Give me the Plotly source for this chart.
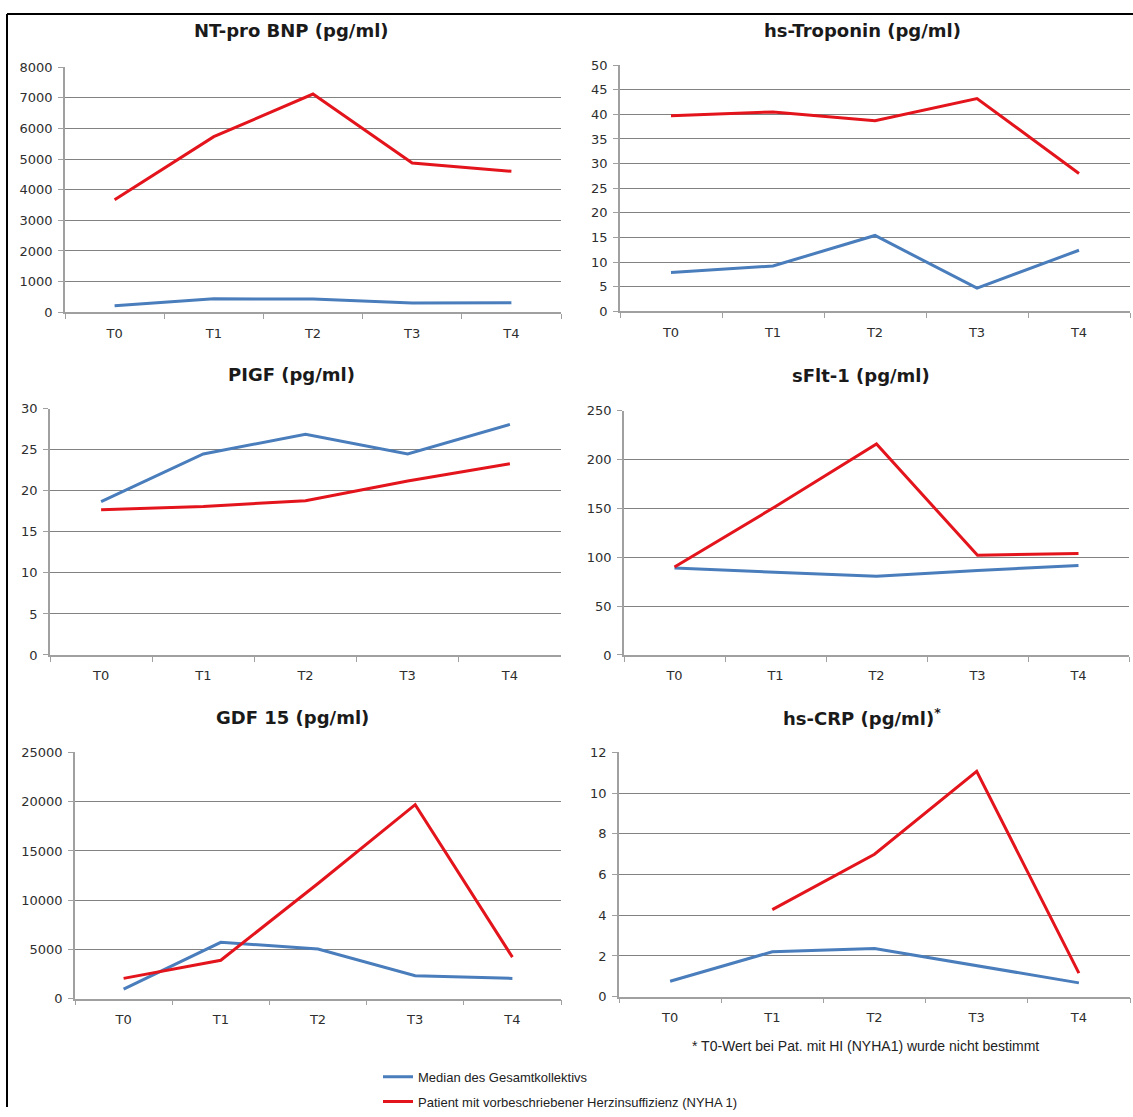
import plotly.graph_objects as go

W, H = 1133, 1117

# time points
times = ["T0", "T1", "T2", "T3", "T4"]

# series values per marker (median of whole cohort / patient with heart failure NYHA 1)
ntprobnp_median = [210, 440, 430, 300, 310]
ntprobnp_patient = [3670, 5730, 7120, 4870, 4600]

troponin_median = [7.9, 9.2, 15.4, 4.7, 12.4]
troponin_patient = [39.7, 40.5, 38.7, 43.2, 28.0]

plgf_median = [18.7, 24.5, 26.9, 24.5, 28.1]
plgf_patient = [17.7, 18.1, 18.8, 21.2, 23.3]

sflt_median = [89, 85, 80.5, 86.5, 91.5]
sflt_patient = [90, 152, 216, 102, 104]

gdf_median = [960, 5720, 5050, 2330, 2060]
gdf_patient = [2060, 3900, 11700, 19700, 4220]

crp_median = [0.76, 2.21, 2.37, 1.53, 0.68]
crp_patient = [None, 4.28, 7.0, 11.07, 1.16]

median_name = "Median des Gesamtkollektivs"
patient_name = "Patient mit vorbeschriebener Herzinsuffizienz (NYHA 1)"
footnote = "* T0-Wert bei Pat. mit HI (NYHA1) wurde nicht bestimmt"

BLUE = "#4a7dbb"
RED = "#e3141c"
GRID = "#828282"
AXIS = "#a0a0a0"
TICKFONT = dict(family="DejaVu Sans, Arial, sans-serif", size=13, color="#2e2e2e")

# panel layout in pixels: title, median, patient, (x0, x1, ytop, ybottom), ymax, dtick, title centre
panels = [
    ("NT-pro BNP (pg/ml)", ntprobnp_median, ntprobnp_patient, (65, 561, 61, 310), 8000, 1000, (291, 24)),
    ("hs-Troponin (pg/ml)", troponin_median, troponin_patient, (620, 1130, 59, 309), 50, 5, (862, 24)),
    ("PIGF (pg/ml)", plgf_median, plgf_patient, (50, 561, 408, 658), 30, 5, (291, 373)),
    ("sFlt-1 (pg/ml)", sflt_median, sflt_patient, (624, 1129, 410, 658), 250, 50, (861, 374)),
    ("GDF 15 (pg/ml)", gdf_median, gdf_patient, (75, 561, 757, 1007), 25000, 5000, (292, 721)),
    ("hs-CRP (pg/ml)<sup>*</sup>", crp_median, crp_patient, (619, 1130, 757, 1005), 12, 2, (862, 721)),
]

fig = go.Figure()
annotations = []

for i, (title, med, pat, (x0, x1, yt, yb), ymax, dt, (tx, ty)) in enumerate(panels):
    n = "" if i == 0 else str(i + 1)
    xa, ya = "x" + n, "y" + n
    fig.add_trace(go.Scatter(
        x=times, y=med, mode="lines", name=median_name,
        line=dict(color=BLUE, width=3), xaxis=xa, yaxis=ya,
        showlegend=(i == 0), legendgroup="median", connectgaps=False,
    ))
    fig.add_trace(go.Scatter(
        x=times, y=pat, mode="lines", name=patient_name,
        line=dict(color=RED, width=3), xaxis=xa, yaxis=ya,
        showlegend=(i == 0), legendgroup="patient", connectgaps=False,
    ))
    fig.layout["xaxis" + n] = dict(
        domain=[x0 / W, x1 / W], anchor=ya, type="category",
        categoryorder="array", categoryarray=times, range=[-0.5, 4.5],
        showgrid=False, showline=True, linecolor=AXIS, linewidth=1.5,
        ticks="outside", tickson="boundaries", ticklen=5, tickcolor=AXIS,
        tickfont=TICKFONT, ticklabelstandoff=8, zeroline=False,
        fixedrange=True,
    )
    fig.layout["yaxis" + n] = dict(
        domain=[1 - yb / H, 1 - yt / H], anchor=xa, range=[0, ymax],
        dtick=dt, tick0=0, tickformat="d", showgrid=True, gridcolor=GRID,
        gridwidth=1.4, showline=True, linecolor=AXIS, linewidth=1.5,
        ticks="outside", ticklen=5, tickcolor=AXIS, tickfont=TICKFONT,
        zeroline=False, ticklabelstandoff=3, fixedrange=True,
    )
    annotations.append(dict(
        text="<b>" + title + "</b>", x=tx / W, y=1 - ty / H,
        xref="paper", yref="paper", xanchor="center", yanchor="middle",
        showarrow=False,
        font=dict(family="DejaVu Sans, Arial, sans-serif", size=18, color="#1a1a1a"),
    ))

annotations.append(dict(
    text=footnote, x=865 / W, y=1 - 1055 / H, xref="paper", yref="paper",
    xanchor="center", yanchor="middle", showarrow=False,
    font=dict(family="Liberation Sans, Arial, sans-serif", size=14, color="#222222"),
))

fig.update_layout(
    width=W, height=H,
    margin=dict(l=0, r=0, t=0, b=0),
    paper_bgcolor="white", plot_bgcolor="white",
    annotations=annotations,
    legend=dict(
        x=378 / W, y=1 - 1071 / H, xanchor="left", yanchor="top",
        font=dict(family="Liberation Sans, Arial, sans-serif", size=13, color="#222222"),
        tracegroupgap=5, bgcolor="rgba(0,0,0,0)", itemwidth=30,
    ),
    shapes=[
        dict(type="line", xref="paper", yref="paper", x0=7 / W, x1=1, y0=1 - 7 / H, y1=1 - 7 / H,
             line=dict(color="black", width=2)),
        dict(type="line", xref="paper", yref="paper", x0=7 / W, x1=7 / W, y0=1 - 7 / H, y1=0,
             line=dict(color="black", width=2)),
    ],
)

fig.write_html("out.html")
